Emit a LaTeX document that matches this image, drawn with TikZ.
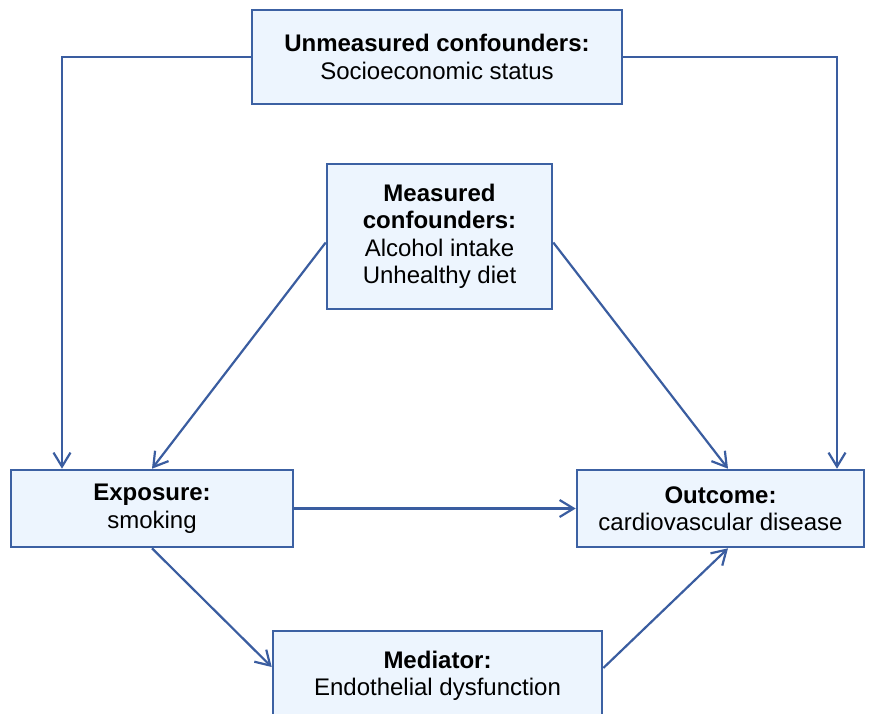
\documentclass[tikz,border=0pt]{standalone}
\usepackage{fontspec}
\setmainfont{Liberation Sans}
\usetikzlibrary{arrows.meta}
\definecolor{boxfill}{HTML}{EDF5FE}
\definecolor{boxline}{HTML}{3C61A3}
\definecolor{arrowline}{HTML}{3A5DA0}
\begin{document}
\begin{tikzpicture}[x=1pt,y=-1pt,
  vbox/.style={draw=boxline, line width=2.6pt, fill=boxfill, rectangle,
    align=center, inner sep=0pt, font=\fontsize{24}{27.5}\selectfont},
  link/.style={draw=arrowline, line width=2.2pt,
    -{Straight Barb[length=14pt,width=17pt,line width=2.2pt]}}]
\useasboundingbox (0,0) rectangle (874,713);
\clip (0,0) rectangle (874,713);

\node[vbox, minimum width=370pt, minimum height=94pt] (unm) at (437,57)
  {\textbf{Unmeasured confounders:}\\Socioeconomic status};
\node[vbox, minimum width=225pt, minimum height=145pt] (meas) at (439.5,236.5)
  {\textbf{Measured}\\\textbf{confounders:}\\Alcohol intake\\Unhealthy diet};
\node[vbox, minimum width=282pt, minimum height=77pt] (expo) at (152,508.5)
  {\textbf{Exposure:}\\smoking};
\node[vbox, minimum width=287pt, minimum height=77pt] (outc) at (720.5,508.5)
  {\textbf{Outcome:}\\cardiovascular disease};
\node[vbox, minimum width=329pt, minimum height=90pt] (med) at (437.5,676)
  {\textbf{Mediator:}\\Endothelial dysfunction};

% elbow corners of the unmeasured-confounder paths
\coordinate (ul) at (62,57);
\coordinate (ur) at (837,57);

\draw[link] (unm.west) -- (ul) -- (ul |- expo.north);
\draw[link] (unm.east) -- (ur) -- (ur |- outc.north);
\draw[link] ([yshift=-6pt]meas.west) -- (expo.north);
\draw[link] ([yshift=-6pt]meas.east) -- ([xshift=7.5pt]outc.north);
\draw[link] (expo.east) -- (outc.west);
\draw[link] (expo.south) -- ([yshift=9pt]med.west);
\draw[link] ([yshift=8pt]med.east) -- ([xshift=7.5pt]outc.south);
\end{tikzpicture}
\end{document}
